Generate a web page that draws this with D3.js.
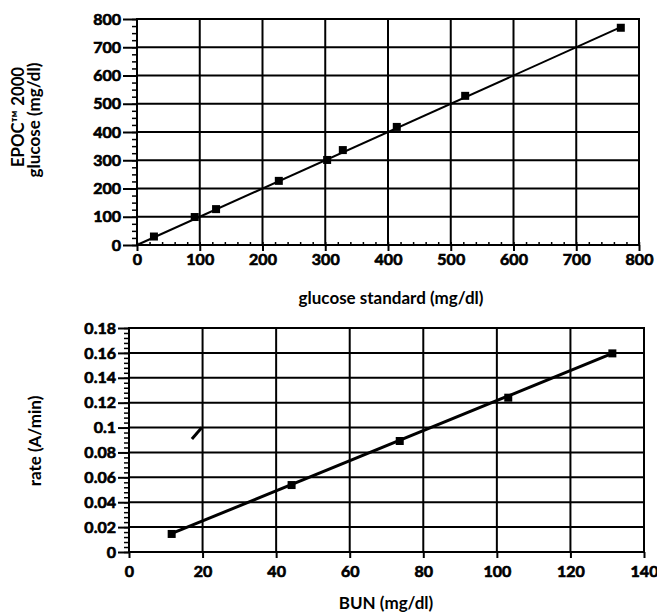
<!DOCTYPE html>
<html>
<head>
<meta charset="utf-8">
<script src="https://cdn.jsdelivr.net/npm/d3@7"></script>
<style>
  body { margin: 0; background: #fff; }
  svg { display: block; }
</style>
</head>
<body>
<svg id="chart" width="657" height="614"></svg>
<script>
// glucose panel
const glucoseStd = [27, 92, 126, 226, 303, 328, 414, 523, 771];
const glucoseEpoc = [30, 99, 127, 227, 301, 336, 418, 528, 769];
const glucoseFitX = [0, 771];
const glucoseFitY = [0, 771];
const glucoseTicks = [0, 100, 200, 300, 400, 500, 600, 700, 800];

// BUN panel
const bun = [11.6, 44.2, 73.6, 103.1, 131.4];
const rate = [0.0145, 0.0538, 0.0892, 0.124, 0.1596];
const bunFitX = [12, 131.4];
const bunFitY = [0.0153, 0.1596];
const bunTicks = [0, 20, 40, 60, 80, 100, 120, 140];
const rateTicks = [0, 0.02, 0.04, 0.06, 0.08, 0.1, 0.12, 0.14, 0.16, 0.18];
// stray pen mark on the scan
const strayX = [17.1, 19.8];
const strayY = [0.0908, 0.1];

const FONT = "Lato, 'DejaVu Sans', sans-serif";
const SVG = d3.select("#chart");

function panel(opt) {
  const X = d3.scaleLinear().domain(opt.xDomain).range(opt.xRange);
  const Y = d3.scaleLinear().domain(opt.yDomain).range(opt.yRange);
  const G = SVG.append("g");

  // grid
  G.append("g").selectAll("line").data(opt.xTicks).join("line")
    .attr("x1", d => X(d)).attr("x2", d => X(d))
    .attr("y1", Y.range()[0]).attr("y2", Y.range()[1])
    .attr("stroke", "#000").attr("stroke-width", 2);
  G.append("g").selectAll("line").data(opt.yTicks).join("line")
    .attr("x1", X.range()[0]).attr("x2", X.range()[1])
    .attr("y1", d => Y(d)).attr("y2", d => Y(d))
    .attr("stroke", "#000").attr("stroke-width", 2);

  // minor ticks
  const yMinor = d3.range(opt.yDomain[0], opt.yDomain[1] + 1e-9, opt.yMinorStep);
  G.append("g")
    .attr("transform", `translate(${X.range()[0]},0)`)
    .call(d3.axisLeft(Y).tickValues(yMinor).tickSize(5).tickFormat(""))
    .call(g => g.select(".domain").remove())
    .selectAll("line").attr("stroke-width", 1.5);
  if (opt.xMinorStep) {
    const xMinor = d3.range(opt.xDomain[0], opt.xDomain[1] + 1e-9, opt.xMinorStep);
    G.append("g")
      .attr("transform", `translate(0,${Y.range()[0]})`)
      .call(d3.axisBottom(X).tickValues(xMinor).tickSize(-3).tickFormat(""))
      .call(g => g.select(".domain").remove())
      .selectAll("line").attr("stroke-width", 1.5);
  }

  // major axes
  G.append("g")
    .attr("transform", `translate(${X.range()[0]},0)`)
    .call(d3.axisLeft(Y).tickValues(opt.yTicks).tickSize(opt.yTickLen).tickPadding(2)
      .tickFormat(opt.yFormat))
    .call(g => g.select(".domain").remove())
    .call(g => g.selectAll("line").attr("stroke-width", 2));
  G.append("g")
    .attr("transform", `translate(0,${Y.range()[0]})`)
    .call(d3.axisBottom(X).tickValues(opt.xTicks).tickSize(6).tickPadding(opt.xPad)
      .tickFormat(d3.format("d")))
    .call(g => g.select(".domain").remove())
    .call(g => g.selectAll("line").attr("stroke-width", 2));
  // scanned labels are very heavy: bold plus a thin outline
  G.selectAll(".tick text")
    .style("font-family", FONT).style("font-size", "16px")
    .style("font-weight", "bold").style("fill", "#000")
    .style("stroke", "#000").style("stroke-width", "0.7px");

  // frame
  G.append("rect")
    .attr("x", X.range()[0]).attr("y", Y.range()[1])
    .attr("width", X.range()[1] - X.range()[0])
    .attr("height", Y.range()[0] - Y.range()[1])
    .attr("fill", "none").attr("stroke", "#000").attr("stroke-width", 2);

  // fit line
  G.append("path")
    .datum(d3.zip(opt.fitX, opt.fitY))
    .attr("d", d3.line().x(d => X(d[0])).y(d => Y(d[1])))
    .attr("fill", "none").attr("stroke", "#000").attr("stroke-width", opt.lineW);

  // points
  const S = 8;
  G.append("g").selectAll("rect").data(d3.zip(opt.px, opt.py)).join("rect")
    .attr("x", d => X(d[0]) - S / 2).attr("y", d => Y(d[1]) - S / 2)
    .attr("width", S).attr("height", S).attr("fill", "#000");

  return { X, Y, G };
}

const glucosePanel = panel({
  xDomain: [0, 800], xRange: [137, 639],
  yDomain: [0, 800], yRange: [245, 19],
  xTicks: glucoseTicks, yTicks: glucoseTicks,
  yMinorStep: 25, xMinorStep: 20,
  yTickLen: 14, xPad: 3, yFormat: d3.format("d"),
  fitX: glucoseFitX, fitY: glucoseFitY, lineW: 2,
  px: glucoseStd, py: glucoseEpoc
});

const bunPanel = panel({
  xDomain: [0, 140], xRange: [129, 644],
  yDomain: [0, 0.18], yRange: [552, 328],
  xTicks: bunTicks, yTicks: rateTicks,
  yMinorStep: 0.004, xMinorStep: null,
  yTickLen: 11, xPad: 8, yFormat: d => d === 0 ? "0" : d3.format("~g")(d),
  fitX: bunFitX, fitY: bunFitY, lineW: 3,
  px: bun, py: rate
});

bunPanel.G.append("path")
  .datum(d3.zip(strayX, strayY))
  .attr("d", d3.line().x(d => bunPanel.X(d[0])).y(d => bunPanel.Y(d[1])))
  .attr("fill", "none").attr("stroke", "#000").attr("stroke-width", 3);

// axis titles, font size fitted to the width they take in the original
function title(txt, x, y, rot, width) {
  const t = SVG.append("text")
    .attr("transform", `translate(${x},${y})` + (rot ? " rotate(-90)" : ""))
    .attr("text-anchor", "middle")
    .style("font-family", FONT).style("font-size", "16px")
    .style("font-weight", "bold").style("fill", "#000")
    .text(txt);
  const len = t.node().getComputedTextLength();
  t.style("font-size", Math.min(17, 16 * width / len) + "px");
}
title("glucose standard (mg/dl)", 391, 304, false, 212);
title("BUN (mg/dl)", 386, 609, false, 108);
title("EPOC™ 2000", 24, 117, true, 100);
title("glucose (mg/dl)", 40, 120, true, 122);
title("rate (A/min)", 41, 441, true, 102);
</script>
</body>
</html>
